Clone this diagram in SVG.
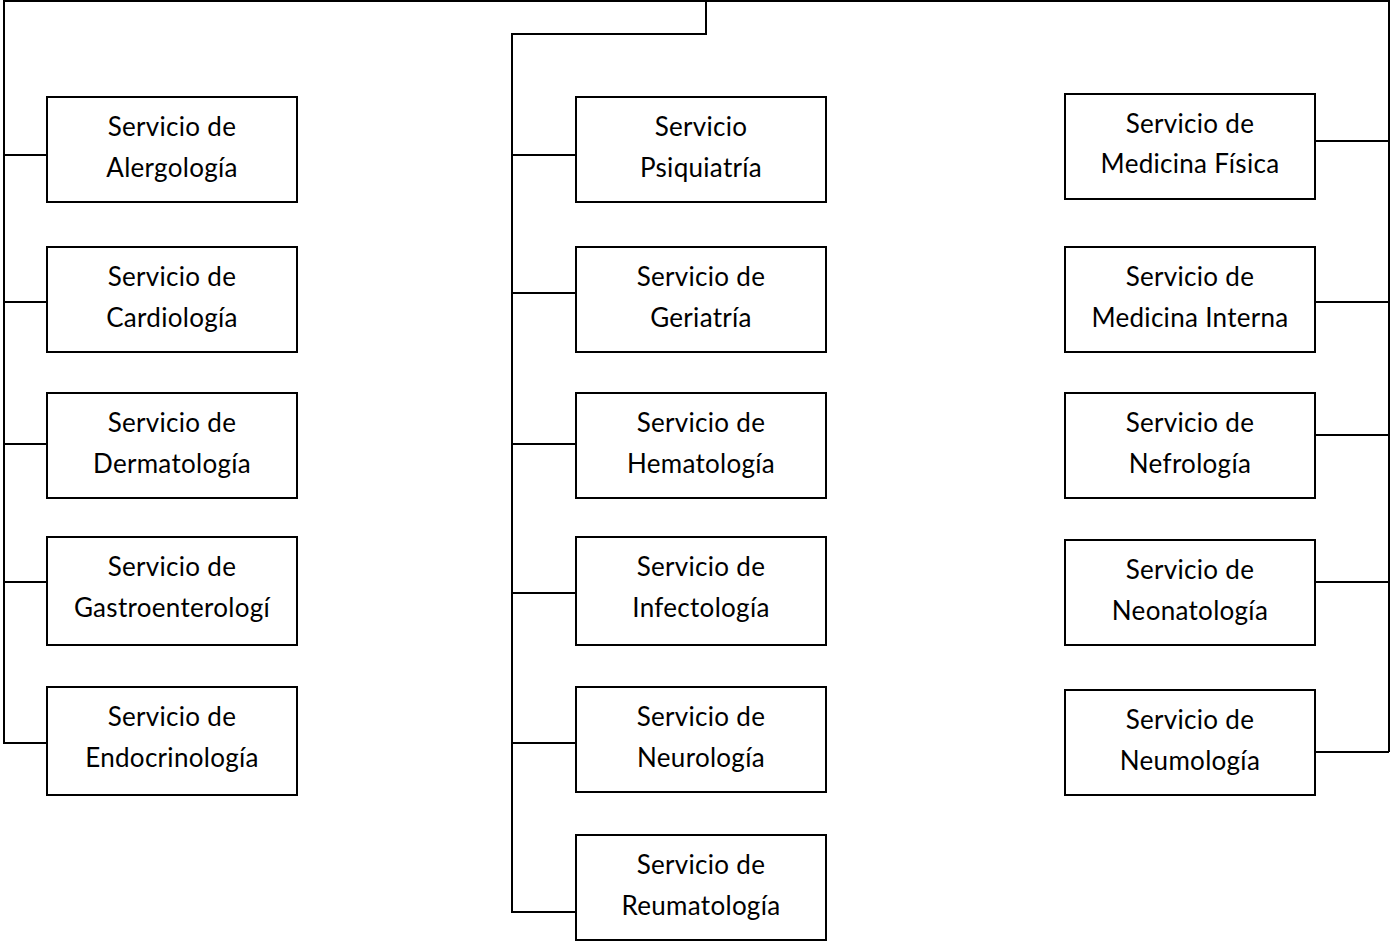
<svg xmlns="http://www.w3.org/2000/svg" width="1392" height="941" viewBox="0 0 1392 941">
<style>
.box{fill:#fff;stroke:#000;stroke-width:2}
.ln{fill:none;stroke:#000;stroke-width:2}
text{font-family:Lato,"Open Sans",sans-serif;font-size:26px;letter-spacing:0.3px;fill:#000;text-anchor:middle}
</style>
<rect width="1392" height="941" fill="#fff"/>
<g id="connectors">
<path class="ln" d="M4,155 V1 H1389 V752"/>
<path class="ln" d="M4,155 V743 H47"/>
<path class="ln" d="M4,155 H47 M4,302 H47 M4,444 H47 M4,582 H47"/>
<path class="ln" d="M706,1 V34 H512 V912 H576"/>
<path class="ln" d="M512,155 H576 M512,293 H576 M512,444 H576 M512,593 H576 M512,743 H576"/>
<path class="ln" d="M1315,141 H1389 M1315,302 H1389 M1315,435 H1389 M1315,582 H1389 M1315,752 H1389"/>
</g>
<g id="n_alergologia"><rect class="box" x="47" y="97" width="250" height="105"/><text x="172" y="136">Servicio de</text><text x="172" y="177">Alergología</text></g>
<g id="n_cardiologia"><rect class="box" x="47" y="247" width="250" height="105"/><text x="172" y="286">Servicio de</text><text x="172" y="327">Cardiología</text></g>
<g id="n_dermatologia"><rect class="box" x="47" y="393" width="250" height="105"/><text x="172" y="432">Servicio de</text><text x="172" y="473">Dermatología</text></g>
<g id="n_gastro"><rect class="box" x="47" y="537" width="250" height="108"/><text x="172" y="576">Servicio de</text><text x="172" y="617">Gastroenterologí</text></g>
<g id="n_endocrino"><rect class="box" x="47" y="687" width="250" height="108"/><text x="172" y="726">Servicio de</text><text x="172" y="767">Endocrinología</text></g>
<g id="n_psiquiatria"><rect class="box" x="576" y="97" width="250" height="105"/><text x="701" y="136">Servicio</text><text x="701" y="177">Psiquiatría</text></g>
<g id="n_geriatria"><rect class="box" x="576" y="247" width="250" height="105"/><text x="701" y="286">Servicio de</text><text x="701" y="327">Geriatría</text></g>
<g id="n_hematologia"><rect class="box" x="576" y="393" width="250" height="105"/><text x="701" y="432">Servicio de</text><text x="701" y="473">Hematología</text></g>
<g id="n_infectologia"><rect class="box" x="576" y="537" width="250" height="108"/><text x="701" y="576">Servicio de</text><text x="701" y="617">Infectología</text></g>
<g id="n_neurologia"><rect class="box" x="576" y="687" width="250" height="105"/><text x="701" y="726">Servicio de</text><text x="701" y="767">Neurología</text></g>
<g id="n_reumatologia"><rect class="box" x="576" y="835" width="250" height="105"/><text x="701" y="874">Servicio de</text><text x="701" y="915">Reumatología</text></g>
<g id="n_medfisica"><rect class="box" x="1065" y="94" width="250" height="105"/><text x="1190" y="133">Servicio de</text><text x="1190" y="173">Medicina Física</text></g>
<g id="n_medinterna"><rect class="box" x="1065" y="247" width="250" height="105"/><text x="1190" y="286">Servicio de</text><text x="1190" y="327">Medicina Interna</text></g>
<g id="n_nefrologia"><rect class="box" x="1065" y="393" width="250" height="105"/><text x="1190" y="432">Servicio de</text><text x="1190" y="473">Nefrología</text></g>
<g id="n_neonatologia"><rect class="box" x="1065" y="540" width="250" height="105"/><text x="1190" y="579">Servicio de</text><text x="1190" y="620">Neonatología</text></g>
<g id="n_neumologia"><rect class="box" x="1065" y="690" width="250" height="105"/><text x="1190" y="729">Servicio de</text><text x="1190" y="770">Neumología</text></g>
</svg>
